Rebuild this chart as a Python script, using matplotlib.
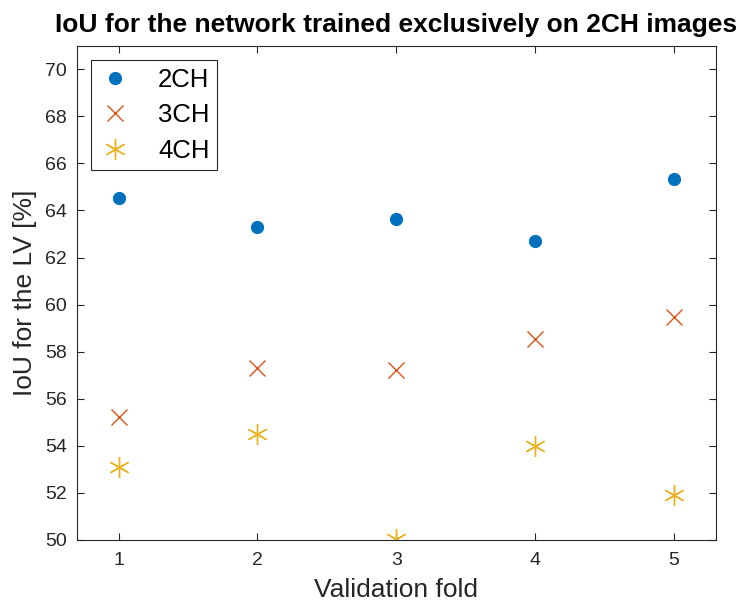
import matplotlib
matplotlib.use("Agg")
import matplotlib.pyplot as plt

folds = [1, 2, 3, 4, 5]
iou_2ch = [64.52, 63.29, 63.62, 62.71, 65.32]
iou_3ch = [55.21, 57.31, 57.24, 58.54, 59.49]
iou_4ch = [53.09, 54.52, 50.04, 54.01, 51.90]

plt.rcParams['font.family'] = ['Liberation Sans', 'DejaVu Sans']

fig = plt.figure(figsize=(7.47, 6.10), dpi=100)
ax = fig.add_axes([0.103, 0.115, 0.855, 0.81])

ax.plot(folds, iou_2ch, linestyle='none', marker='o', markersize=8.5,
        color='#0072BD', label='2CH')
ax.plot(folds, iou_3ch, linestyle='none', marker='x', markersize=11,
        markeredgewidth=1.0, color='#D95319', label='3CH')
ax.plot(folds, iou_4ch, linestyle='none', marker=(6, 2, 0), markersize=15,
        markeredgewidth=1.0, color='#EDB120', label='4CH')

ax.set_xlim(0.7, 5.3)
ax.set_ylim(50, 71)
ax.set_xticks(folds)
ax.set_yticks(range(50, 71, 2))
ax.tick_params(direction='in', top=True, right=True, labelsize=14,
               colors='#262626', length=5)
ax.tick_params(axis='x', pad=9)
ax.tick_params(axis='y', pad=7)
for s in ax.spines.values():
    s.set_color('#262626')
    s.set_linewidth(0.8)

ax.set_xlabel('Validation fold', fontsize=19, color='#262626', labelpad=6)
ax.set_ylabel('IoU for the LV [%]', fontsize=19, color='#262626', labelpad=6)
ax.set_title('IoU for the network trained exclusively on 2CH images',
             fontsize=19, fontweight='bold', pad=10)

leg = ax.legend(loc='upper left', fontsize=18.5, fancybox=False,
                edgecolor='#262626', framealpha=1, borderpad=0.3,
                handletextpad=1.0, labelspacing=0.45, borderaxespad=0.55,
                handlelength=1.3)
leg.get_frame().set_linewidth(0.8)

fig.savefig('out.png', dpi=100)
